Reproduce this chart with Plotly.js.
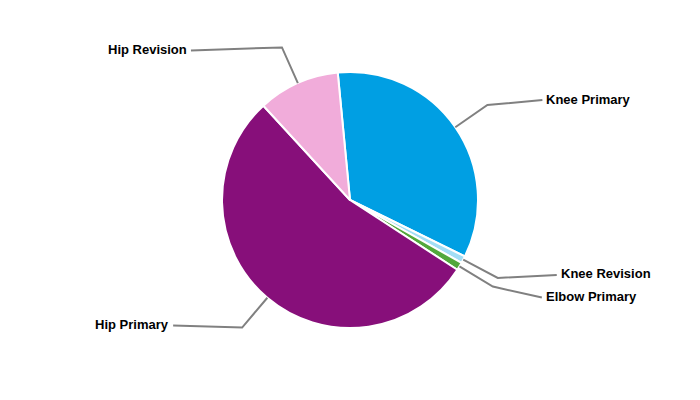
<!DOCTYPE html>
<html>
<head>
<meta charset="utf-8">
<script src="https://cdn.plot.ly/plotly-3.0.1.min.js"></script>
<style>html,body{margin:0;padding:0;background:#fff;}#chart{width:700px;height:400px;}</style>
</head>
<body>
<div id="chart"></div>
<script>
// ---- data ----
var categories = ["Knee Primary", "Knee Revision", "Elbow Primary", "Hip Primary", "Hip Revision"];
var shares = [33.8, 0.9, 1.0, 54.0, 10.3];
var colors = ["#009FE3", "#A3DEF6", "#52A83C", "#870F7A", "#F1ACDA"];

// ---- layout config (label placement relative to leader-line elbow, px) ----
var labelOffsets = [[55, -5], [59, -3], [49, 11], [-69, -2], [-91, 3]];
var W = 700, H = 400;
var cx = 350, cy = 200, R = 128;
var rotation = -5.5;
var elbowFactor = 1.305;

var total = shares.reduce(function (a, b) { return a + b; }, 0);
var shapes = [], annotations = [];
var start = rotation;
for (var i = 0; i < shares.length; i++) {
  var span = shares[i] / total * 360;
  var mid = (start + span / 2) * Math.PI / 180;
  start += span;
  var p0 = [cx + R * Math.sin(mid), cy - R * Math.cos(mid)];
  var p1 = [cx + R * elbowFactor * Math.sin(mid), cy - R * elbowFactor * Math.cos(mid)];
  var p2 = [p1[0] + labelOffsets[i][0], p1[1] + labelOffsets[i][1]];
  var path = "M" + (p0[0] / W) + "," + (1 - p0[1] / H) +
             " L" + (p1[0] / W) + "," + (1 - p1[1] / H) +
             " L" + (p2[0] / W) + "," + (1 - p2[1] / H);
  shapes.push({type: "path", xref: "paper", yref: "paper", path: path,
               line: {color: "#808080", width: 2}});
  var right = labelOffsets[i][0] > 0;
  annotations.push({
    xref: "paper", yref: "paper",
    x: (p2[0] + (right ? 2 : -2)) / W, y: 1 - (p2[1] - 1) / H,
    xanchor: right ? "left" : "right", yanchor: "middle",
    text: categories[i], showarrow: false,
    font: {family: "Liberation Sans, Arial, sans-serif", size: 13, color: "#000", weight: "bold"}
  });
}

var trace = {
  type: "pie",
  labels: categories,
  values: shares,
  sort: false,
  direction: "clockwise",
  rotation: rotation,
  textinfo: "none",
  hoverinfo: "label+percent",
  marker: {colors: colors, line: {color: "#ffffff", width: 2}},
  domain: {x: [(cx - R) / W, (cx + R) / W], y: [(cy - R) / H, (cy + R) / H]}
};

var layout = {
  width: W, height: H,
  margin: {l: 0, r: 0, t: 0, b: 0},
  showlegend: false,
  paper_bgcolor: "#fff",
  shapes: shapes,
  annotations: annotations
};

Plotly.newPlot("chart", [trace], layout, {displayModeBar: false, staticPlot: true});
</script>
</body>
</html>
